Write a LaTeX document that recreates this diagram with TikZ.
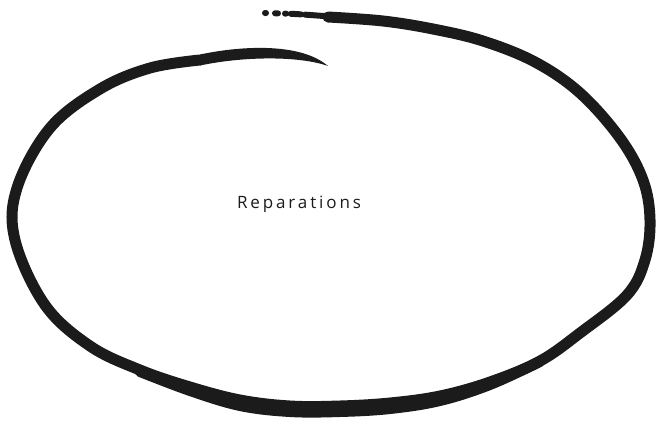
\documentclass[tikz,border=0pt]{standalone}
\usepackage{fontspec}
\setmainfont{Open Sans}
\usepackage{tikz}
\usetikzlibrary{calc}

\definecolor{ink}{HTML}{1B1B1B}

\tikzset{
  brush/.style={draw=ink, line width=#1, line cap=round, line join=round},
  brush/.default=11pt,
  label/.style={font=\addfontfeatures{LetterSpace=17}\fontsize{17}{20}\selectfont, text=ink, inner sep=0pt}
}

\begin{document}
\begin{tikzpicture}[x=1pt, y=-1pt]
      \useasboundingbox (0,0) rectangle (660,424);

      % 1. broken start of the stroke at the top
      \draw[brush=6pt, dash pattern=on 1pt off 9pt on 3pt off 7pt on 1pt off 5pt on 10pt off 4pt on 40pt]
        plot[smooth] coordinates {(265,13) (295,14) (337,17)};

      % 2. main loop, clockwise from the top
      \draw[brush] plot[smooth, tension=0.6] coordinates {
        (328,17) (383,21) (433,29) (483,41) (535,62) (580,93) (620,138)
        (643,180) (650,220) (645,260) (627,295) (580,333) (540,361)
        (490,382) (440,396) (390,403) (340,406) (290,406) (240,400)
        (190,387) (140,370) (90,346) (45,305) (15,240) (17,188)
        (50,128) (100,89) (150,68) (200,60)};

      % 3. heavier brush along the bottom
      \draw[brush=10pt] plot[smooth, tension=0.6] coordinates {
        (140,372) (190,391) (240,406) (290,412) (340,412) (390,409)
        (440,401) (490,385) (540,362)};

      % 4. tail running inside the loop
      \fill[ink] (200,54.5) .. controls (240,46) and (300,42) .. (328,66)
        .. controls (300,56) and (245,56) .. (200,65.5) -- cycle;

      % 5. label
      \node[label, anchor=base] (reparations) at (299,208) {Reparations};
\end{tikzpicture}
\end{document}
